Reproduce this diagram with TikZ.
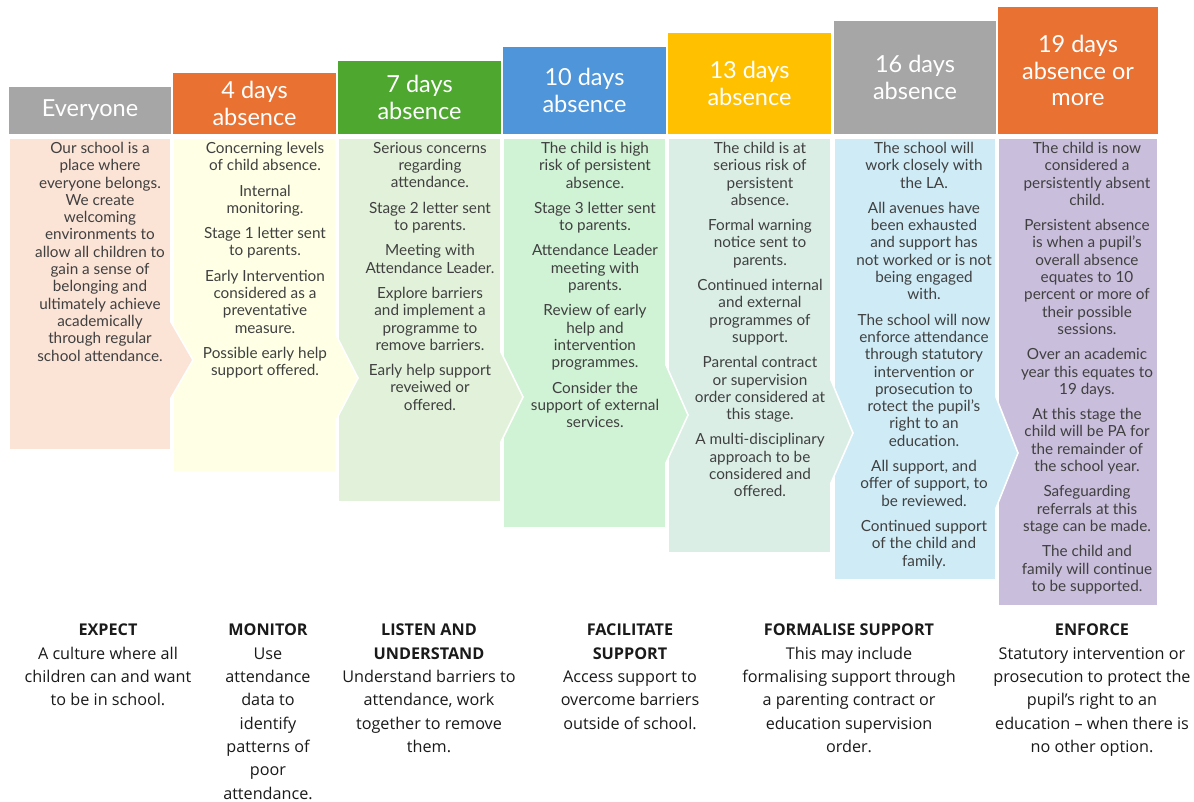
\documentclass[tikz,border=0pt]{standalone}
\usepackage{fontspec}
\setmainfont{Lato}
\newfontfamily\lowfont[Ligatures=TeX]{Open Sans}
\definecolor{hgray}{HTML}{A6A6A6}
\definecolor{horange}{HTML}{E97132}
\definecolor{hgreen}{HTML}{4EA72E}
\definecolor{hblue}{HTML}{4E95D9}
\definecolor{hgold}{HTML}{FFC000}
\definecolor{bpeach}{HTML}{FBE3D6}
\definecolor{byellow}{HTML}{FEFFE4}
\definecolor{bgreenA}{HTML}{E2F2DA}
\definecolor{bgreenB}{HTML}{D0F2D5}
\definecolor{bteal}{HTML}{DAEEE6}
\definecolor{bblue}{HTML}{CEEBF6}
\definecolor{blav}{HTML}{C9BEDC}
\definecolor{btext}{HTML}{404040}
\definecolor{ltext}{HTML}{1A1A1A}
\tikzset{
  hdr/.style={inner sep=0pt, text=white, align=center,
    font=\fontsize{23.5}{26.5}\selectfont},
  bodyshape/.style={draw=white, line width=1.6pt, line join=miter},
  btxt/.style={inner sep=0pt, anchor=north, align=center, text=btext,
    font=\fontsize{15.3}{17.3}\selectfont},
  ltxt/.style={inner sep=0pt, anchor=north, align=center, text=ltext,
    font=\lowfont\fontsize{16.2}{23.3}\selectfont},
}
\newcommand{\gp}{\\[8pt]}
\begin{document}
\begin{tikzpicture}[x=1pt,y=-1pt]
\useasboundingbox[fill=white] (0,0) rectangle (1194,802);

% bodies (drawn right to left so each point overlays the next body)
\filldraw[bodyshape, fill=blav] (998,138) -- (1158,138) -- (1158,606) -- (998,606) -- cycle;
\filldraw[bodyshape, fill=bblue] (834,138) -- (996,138) -- (996,397) -- (1018,453) -- (996,508) -- (996,580) -- (834,580) -- cycle;
\filldraw[bodyshape, fill=bteal] (668,138) -- (831,138) -- (831,380) -- (853,433) -- (831,483) -- (831,553) -- (668,553) -- cycle;
\filldraw[bodyshape, fill=bgreenB] (503,138) -- (666,138) -- (666,365) -- (688,415) -- (666,463) -- (666,528) -- (503,528) -- cycle;
\filldraw[bodyshape, fill=bgreenA] (338,138) -- (501,138) -- (501,352) -- (523,397) -- (501,442) -- (501,502) -- (338,502) -- cycle;
\filldraw[bodyshape, fill=byellow] (173,138) -- (336,138) -- (336,335) -- (358,378) -- (336,420) -- (336,472) -- (173,472) -- cycle;
\filldraw[bodyshape, fill=bpeach] (9,138) -- (171,138) -- (171,322) -- (193,360) -- (171,398) -- (171,450) -- (9,450) -- cycle;

% headers
\node[hdr, fill=hgray, minimum width=162, minimum height=47] (h1) at (90,110.5) {Everyone};
\node[hdr, fill=horange, minimum width=163, minimum height=61] (h2) at (254.5,103.5) {4 days\\absence};
\node[hdr, fill=hgreen, minimum width=163, minimum height=73] (h3) at (419.5,97.5) {7 days\\absence};
\node[hdr, fill=hblue, minimum width=163, minimum height=87] (h4) at (584.5,90.5) {10 days\\absence};
\node[hdr, fill=hgold, minimum width=163, minimum height=101] (h5) at (749.5,83.5) {13 days\\absence};
\node[hdr, fill=hgray, minimum width=162, minimum height=113] (h6) at (915,77.5) {16 days\\absence};
\node[hdr, fill=horange, minimum width=160, minimum height=127] (h7) at (1078,70.5) {19 days\\absence or\\more};

% body texts
\node[btxt] (t1) at (100,142) {Our school is a\\place where\\everyone belongs.\\We create\\welcoming\\environments to\\allow all children to\\gain a sense of\\belonging and\\ultimately achieve\\academically\\through regular\\school attendance.};
\node[btxt] (t2) at (265,142) {Concerning levels\\of child absence.\gp Internal\\monitoring.\gp Stage 1 letter sent\\to parents.\gp Early Intervention\\considered as a\\preventative\\measure.\gp Possible early help\\support offered.};
\node[btxt] (t3) at (430,142) {Serious concerns\\regarding\\attendance.\gp Stage 2 letter sent\\to parents.\gp Meeting with\\Attendance Leader.\gp Explore barriers\\and implement a\\programme to\\remove barriers.\gp Early help support\\reveiwed or\\offered.};
\node[btxt] (t4) at (595,142) {The child is high\\risk of persistent\\absence.\gp Stage 3 letter sent\\to parents.\gp Attendance Leader\\meeting with\\parents.\gp Review of early\\help and\\intervention\\programmes.\gp Consider the\\support of external\\services.};
\node[btxt] (t5) at (760,142) {The child is at\\serious risk of\\persistent\\absence.\gp Formal warning\\notice sent to\\parents.\gp Continued internal\\and external\\programmes of\\support.\gp Parental contract\\or supervision\\order considered at\\this stage.\gp A multi-disciplinary\\approach to be\\considered and\\offered.};
\node[btxt] (t6) at (924,142) {The school will\\work closely with\\the LA.\gp All avenues have\\been exhausted\\and support has\\not worked or is not\\being engaged\\with.\gp The school will now\\enforce attendance\\through statutory\\intervention or\\prosecution to\\rotect the pupil's\\right to an\\education.\gp All support, and\\offer of support, to\\be reviewed.\gp Continued support\\of the child and\\family.};
\node[btxt] (t7) at (1087,142) {The child is now\\considered a\\persistently absent\\child.\gp Persistent absence\\is when a pupil's\\overall absence\\equates to 10\\percent or more of\\their possible\\sessions.\gp Over an academic\\year this equates to\\19 days.\gp At this stage the\\child will be PA for\\the remainder of\\the school year.\gp Safeguarding\\referrals at this\\stage can be made.\gp The child and\\family will continue\\to be supported.};

% bottom labels
\node[ltxt] (l1) at (108,624) {\textbf{EXPECT}\\A culture where all\\children can and want\\to be in school.};
\node[ltxt] (l2) at (268,624) {\textbf{MONITOR}\\Use\\attendance\\data to\\identify\\patterns of\\poor\\attendance.};
\node[ltxt] (l3) at (429,624) {\textbf{LISTEN AND}\\\textbf{UNDERSTAND}\\Understand barriers to\\attendance, work\\together to remove\\them.};
\node[ltxt] (l4) at (630,624) {\textbf{FACILITATE}\\\textbf{SUPPORT}\\Access support to\\overcome barriers\\outside of school.};
\node[ltxt] (l5) at (849,624) {\textbf{FORMALISE SUPPORT}\\This may include\\formalising support through\\a parenting contract or\\education supervision\\order.};
\node[ltxt] (l6) at (1092,624) {\textbf{ENFORCE}\\Statutory intervention or\\prosecution to protect the\\pupil’s right to an\\education – when there is\\no other option.};
\end{tikzpicture}
\end{document}
